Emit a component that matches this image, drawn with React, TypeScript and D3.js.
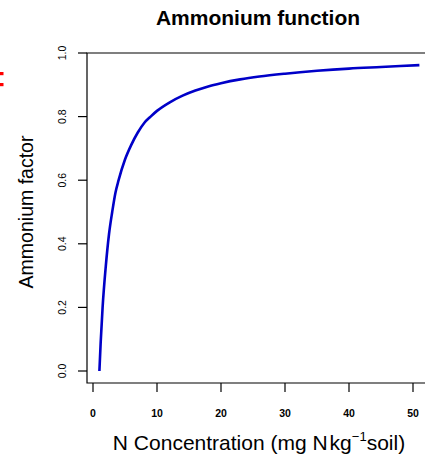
import React from "react";
import * as d3 from "d3";

const W = 425;
const H = 457;

const nConc = [1, 1.2, 1.5, 2, 2.5, 3, 3.5, 4, 5, 6, 7, 8, 9, 10, 12, 14, 16, 18, 20, 23, 26, 30, 35, 40, 45, 51];
const factor = [0, 0.09, 0.2, 0.33, 0.43, 0.5, 0.56, 0.6, 0.665, 0.712, 0.75, 0.78, 0.8, 0.818, 0.845, 0.866, 0.882, 0.895, 0.905, 0.917, 0.926, 0.935, 0.944, 0.951, 0.956, 0.962];
const xTicks = [0, 10, 20, 30, 40, 50];
const yTicks = [0, 0.2, 0.4, 0.6, 0.8, 1.0];

const FONT = "'Liberation Sans', Arial, sans-serif";

export default function App() {
  const x = d3.scaleLinear().domain([0, 50]).range([93, 413]);
  const y = d3.scaleLinear().domain([0, 1]).range([371, 53]);
  const box = { left: 87, top: 53, bottom: 383, right: 432 };
  const pts = nConc.map((v, i) => [v, factor[i]] as [number, number]);
  const line = d3
    .line<[number, number]>()
    .x((d) => x(d[0]))
    .y((d) => y(d[1]))
    .curve(d3.curveMonotoneX);

  return (
    <svg
      width={W}
      height={H}
      style={{ position: "absolute", left: 0, top: 0, background: "#fff" }}
      fontFamily={FONT}
    >
      <rect x={0} y={0} width={W} height={H} fill="#fff" />
      <rect x={0} y={72} width={3.5} height={3.2} fill="#ff0000" />
      <rect x={0} y={83} width={3.5} height={3.2} fill="#ff0000" />
      <text x={258} y={25} textAnchor="middle" fontWeight="bold" fontSize={21} fill="#000">
        Ammonium function
      </text>
      {/* box */}
      <path
        d={`M${box.right},${box.top}H${box.left}V${box.bottom}H${box.right}`}
        fill="none"
        stroke="#000"
        strokeWidth={1.2}
      />
      {/* y axis ticks */}
      {yTicks.map((t) => (
        <g key={"y" + t}>
          <line x1={78} x2={box.left} y1={y(t)} y2={y(t)} stroke="#000" strokeWidth={1.2} />
          <text
            transform={`translate(65.5,${y(t)}) rotate(-90)`}
            textAnchor="middle"
            fontSize={10.5}
            fill="#000"
          >
            {t.toFixed(1)}
          </text>
        </g>
      ))}
      {/* x axis ticks */}
      {xTicks.map((t) => (
        <g key={"x" + t}>
          <line x1={x(t)} x2={x(t)} y1={box.bottom} y2={392} stroke="#000" strokeWidth={1.2} />
          <text x={x(t)} y={417} textAnchor="middle" fontSize={10.5} fontWeight="bold" fill="#000">
            {t}
          </text>
        </g>
      ))}
      <path d={line(pts) || ""} fill="none" stroke="#0000c8" strokeWidth={2.6} />
      <text
        transform={`translate(33,212) rotate(-90)`}
        textAnchor="middle"
        fontSize={19.5}
        fill="#000"
      >
        Ammonium factor
      </text>
      <text x={259} y={450} textAnchor="middle" fontSize={21} fill="#000">
        N Concentration (mg N<tspan dx={2}>kg</tspan>
        <tspan fontSize={13} dy={-9}>−1</tspan>
        <tspan dy={9}>soil)</tspan>
      </text>
    </svg>
  );
}
